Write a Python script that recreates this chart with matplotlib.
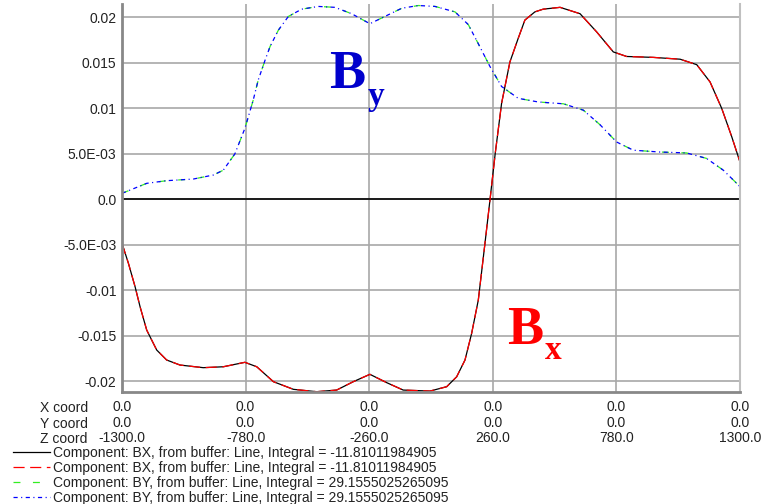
import matplotlib
matplotlib.use("Agg")
import matplotlib.pyplot as plt

# field components along the line
z_bx = [-1300, -1273, -1245, -1224, -1196, -1154, -1112, -1056, -958, -874,
        -783, -733, -663, -579, -481, -397, -327, -257, -186, -117, -4, 66,
        108, 143, 171, 199, 227, 248, 270, 297, 332, 367, 395, 437, 472, 543,
        627, 697, 767, 823, 935, 1048, 1118, 1174, 1223, 1265, 1300]
bx = [-0.00484, -0.00703, -0.0096, -0.0118, -0.01437, -0.01656, -0.01766,
      -0.01821, -0.0185, -0.0184, -0.01791, -0.0184, -0.02004, -0.02088,
      -0.02114, -0.02096, -0.02004, -0.01923, -0.02015, -0.02096, -0.02107,
      -0.02059, -0.0195, -0.01766, -0.01473, -0.01107, -0.00484, -0.0001,
      0.0050, 0.01055, 0.0151, 0.0177, 0.0197, 0.0206, 0.0209, 0.0211,
      0.0204, 0.0184, 0.0162, 0.0157, 0.0156, 0.0154, 0.0148, 0.0129,
      0.0100, 0.0069, 0.0041]

z_by = [-1300, -1196, -1112, -1000, -916, -874, -825, -783, -748, -727,
        -698, -677, -642, -600, -544, -474, -404, -334, -257, -194, -123,
        -53, 17, 101, 157, 199, 248, 297, 367, 451, 557, 641, 711, 781, 851,
        963, 1075, 1159, 1230, 1300]
by = [0.00066, 0.00176, 0.00205, 0.00223, 0.00267, 0.0032, 0.0050, 0.0078,
      0.0109, 0.0131, 0.0153, 0.0168, 0.0186, 0.0201, 0.0209, 0.0212,
      0.0211, 0.0204, 0.0193, 0.0201, 0.0210, 0.0213, 0.0212, 0.0206,
      0.0192, 0.0171, 0.0146, 0.0124, 0.0111, 0.0107, 0.0105, 0.0098,
      0.0082, 0.0063, 0.0054, 0.0052, 0.0051, 0.0045, 0.0032, 0.0014]

z_ticks = [-1300, -780, -260, 260, 780, 1300]
x_coord = ["0.0"] * 6
y_coord = ["0.0"] * 6
z_labels = ["-1300.0", "-780.0", "-260.0", "260.0", "780.0", "1300.0"]

y_ticks = [0.02, 0.015, 0.01, 0.005, 0.0, -0.005, -0.01, -0.015, -0.02]
y_labels = ["0.02", "0.015", "0.01", "5.0E-03", "0.0", "-5.0E-03",
            "-0.01", "-0.015", "-0.02"]

legend_labels = [
    "Component: BX, from buffer: Line, Integral = -11.81011984905",
    "Component: BX, from buffer: Line, Integral = -11.81011984905",
    "Component: BY, from buffer: Line, Integral = 29.1555025265095",
    "Component: BY, from buffer: Line, Integral = 29.1555025265095",
]

plt.rcParams['font.family'] = ['Liberation Sans', 'DejaVu Sans']
plt.rcParams['font.size'] = 10
plt.rcParams['lines.scale_dashes'] = False

W, H = 761, 504
fig = plt.figure(figsize=(W / 100, H / 100), dpi=100)
ax = fig.add_axes([122 / W, 112.3 / H, 618 / W, 388.0 / H])

lw = 0.9
l1, = ax.plot(z_bx, bx, color='black', lw=lw)
l2, = ax.plot(z_bx, bx, color='#ff0000', lw=lw, dashes=(8, 4))
l3, = ax.plot(z_by, by, color='#33ee22', lw=lw, dashes=(5, 9))
l4, = ax.plot(z_by, by, color='#0000ff', lw=lw, dashes=(3, 2.5, 0.8, 2.5))

ax.axhline(0, color='black', lw=1.2, zorder=1)

ax.set_xlim(-1300, 1300)
ax.set_ylim(-0.02114, 0.0215)

ax.set_yticks(y_ticks)
ax.set_yticklabels(y_labels)
ax.set_xticks(z_ticks)
ax.set_xticklabels(["%s\n%s\n%s" % t for t in zip(x_coord, y_coord, z_labels)])
for t in ax.get_xticklabels():
    t.set_linespacing(1.15)
ax.tick_params(length=0, colors='#222222')
ax.tick_params(axis='x', pad=6)
ax.tick_params(axis='y', pad=4)

ax.grid(True, color='#a8a8a8', lw=1.2)
ax.set_axisbelow(True)
ax.spines['top'].set_visible(False)
ax.spines['right'].set_color('#c0c0c0')
ax.spines['right'].set_linewidth(1.5)
for s in ['left', 'bottom']:
    ax.spines[s].set_color('#888888')
    ax.spines[s].set_linewidth(2)

fig.text(40 / W, 1 - 401 / H, "X coord\nY coord\nZ coord", ha='left', va='top',
         linespacing=1.15, color='#222222')

# big component labels
ax.text(-275, 0.0137, "B", color='#0000cc', fontsize=39, fontweight='bold',
        family='Liberation Serif', ha='right', va='center')
ax.text(-265, 0.0113, "y", color='#0000cc', fontsize=24, fontweight='bold',
        family='Liberation Serif', ha='left', va='center')
ax.text(470, -0.01444, "B", color='#ff0000', fontsize=39, fontweight='bold',
        family='Liberation Serif', ha='right', va='center')
ax.text(478, -0.0166, "x", color='#ff0000', fontsize=24, fontweight='bold',
        family='Liberation Serif', ha='left', va='center')

fig.legend([l1, l2, l3, l4], legend_labels, loc='upper left',
           bbox_to_anchor=(13 / W, 1 - 446 / H), frameon=False,
           handlelength=2.66, handletextpad=0.22, labelspacing=0.08,
           borderpad=0, borderaxespad=0, labelcolor='#222222')

fig.savefig("out.png", dpi=100)
